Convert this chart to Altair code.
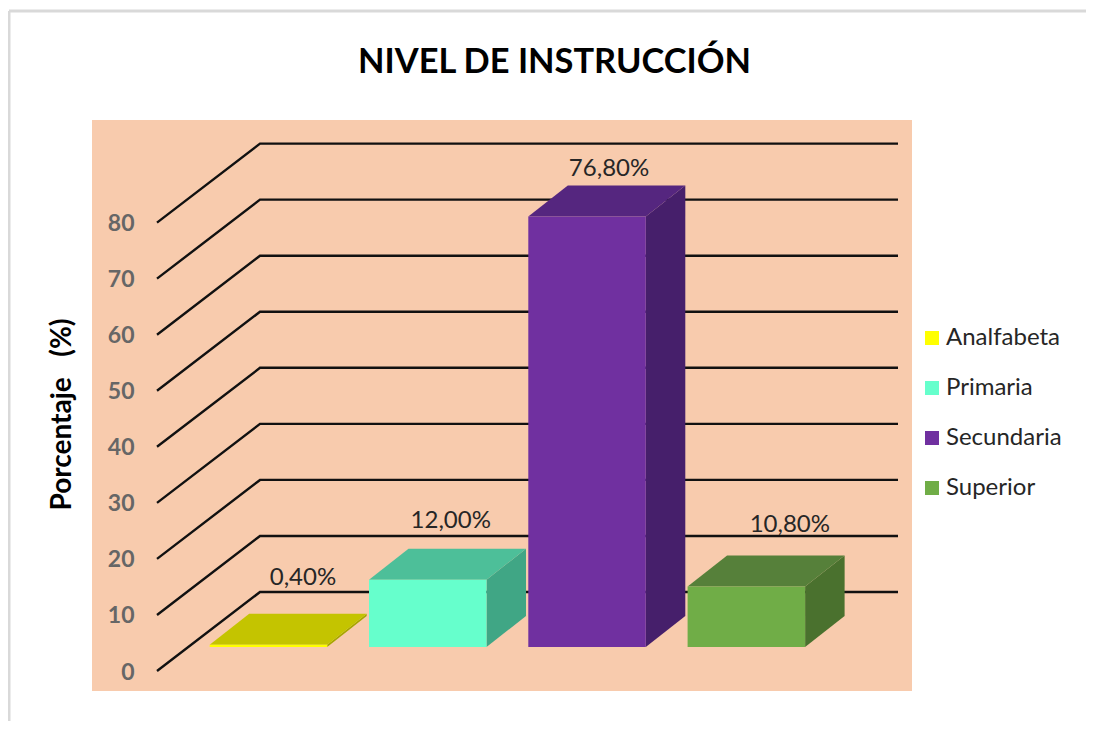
import altair as alt
import pandas as pd

# data
niveles = ["Analfabeta", "Primaria", "Secundaria", "Superior"]
porcentajes = [0.4, 12.0, 76.8, 10.8]
etiquetas = ["0,40%", "12,00%", "76,80%", "10,80%"]
ticks = [0, 10, 20, 30, 40, 50, 60, 70, 80]

# colours per face
front_colors = ["#FFFF00", "#66FFCC", "#7030A0", "#70AD47"]
top_colors = ["#C4C400", "#4DBF99", "#55267F", "#56803A"]
side_colors = ["#A6A600", "#40A685", "#461F6B", "#4A712E"]

# layout, in scale units
BAR_X0 = 200.7
BAR_STEP = 159.3
BAR_W = 117.5
DEPTH_X = 39.5
DEPTH_V = 5.53
FLOOR_V = 4.28
WALL_X0, WALL_X1, WALL_X2 = 148, 251, 889
WALL_V = 14.09
label_dx = [34.5, 23, 22, 43.5]
label_lift = [6.3, 5.0, 3.03, 5.35]

W, H = 1077, 710
x_scale = alt.Scale(domain=[0, W], nice=False, zero=False)
y_scale = alt.Scale(domain=[-8.92, 117.75], nice=False, zero=False)
FONT = "Lato"

panel = pd.DataFrame([{"x": 83, "x2": 903, "y": -3.57, "y2": 98.3}])

wall_rows = []
for t in ticks:
    wall_rows += [
        {"t": t, "x": WALL_X0, "v": t},
        {"t": t, "x": WALL_X1, "v": t + WALL_V},
        {"t": t, "x": WALL_X2, "v": t + WALL_V},
    ]
wall = pd.DataFrame(wall_rows)

front_rows, top_rows, side_rows, label_rows = [], [], [], []
for i, (n, p, e) in enumerate(zip(niveles, porcentajes, etiquetas)):
    x0 = BAR_X0 + BAR_STEP * i
    x1 = x0 + BAR_W
    top = FLOOR_V + p
    front_rows.append({"Nivel": n, "x": x0, "x2": x1, "y": FLOOR_V, "y2": top})
    top_rows += [
        {"c": top_colors[i], "x": x0, "y": top, "y2": top},
        {"c": top_colors[i], "x": x0 + DEPTH_X, "y": top + DEPTH_V, "y2": top},
        {"c": top_colors[i], "x": x1, "y": top + DEPTH_V, "y2": top},
        {"c": top_colors[i], "x": x1 + DEPTH_X, "y": top + DEPTH_V, "y2": top + DEPTH_V},
    ]
    side_rows += [
        {"c": side_colors[i], "x": x1, "y": top, "y2": FLOOR_V},
        {"c": side_colors[i], "x": x1 + DEPTH_X, "y": top + DEPTH_V, "y2": FLOOR_V + DEPTH_V},
    ]
    label_rows.append({
        "t": e,
        "x": (x0 + x1) / 2 + label_dx[i],
        "y": top + DEPTH_V + label_lift[i],
    })

X = lambda f="x": alt.X(f"{f}:Q", scale=x_scale, axis=None)

frame_top = alt.Chart().mark_rule(color="#D9D9D9", strokeWidth=3).encode(
    x=alt.value(0), x2=alt.value(W), y=alt.value(0)
)
frame_left = alt.Chart().mark_rule(color="#D9D9D9", strokeWidth=3).encode(
    x=alt.value(0), y=alt.value(0), y2=alt.value(H)
)

panel_l = alt.Chart(panel).mark_rect(fill="#F8CBAD").encode(
    x=X(),
    x2="x2:Q",
    y=alt.Y(
        "y:Q",
        scale=y_scale,
        axis=alt.Axis(
            values=ticks,
            orient="left",
            offset=-125,
            zindex=1,
            grid=False,
            domain=False,
            ticks=False,
            tickSize=0,
            labelPadding=0,
            labelFont=FONT,
            labelFontSize=23,
            labelFontWeight="bold",
            labelColor="#666666",
            labelOffset=1,
            title="Porcentaje\u00a0\u00a0\u00a0(%)",
            titleFont=FONT,
            titleFontSize=28,
            titleFontWeight="bold",
            titleColor="#000000",
            titleX=-72,
            titleY=403,
            titleAlign="center",
            titleBaseline="middle",
            titleAngle=270,
        ),
    ),
    y2="y2:Q",
)

wall_l = alt.Chart(wall).mark_line(color="#111111", strokeWidth=2.4).encode(
    x=X(),
    y=alt.Y("v:Q", scale=y_scale),
    detail="t:N",
)

side_l = alt.Chart(pd.DataFrame(side_rows)).mark_area(opacity=1).encode(
    x=X(),
    y=alt.Y("y:Q", scale=y_scale),
    y2="y2:Q",
    color=alt.Color("c:N", scale=None, legend=None),
)

top_l = alt.Chart(pd.DataFrame(top_rows)).mark_area(opacity=1).encode(
    x=X(),
    y=alt.Y("y:Q", scale=y_scale),
    y2="y2:Q",
    color=alt.Color("c:N", scale=None, legend=None),
)

front_l = alt.Chart(pd.DataFrame(front_rows)).mark_rect().encode(
    x=X(),
    x2="x2:Q",
    y=alt.Y("y:Q", scale=y_scale),
    y2="y2:Q",
    color=alt.Color(
        "Nivel:N",
        scale=alt.Scale(domain=niveles, range=front_colors),
        legend=alt.Legend(
            title=None,
            orient="none",
            legendX=911,
            legendY=315,
            padding=0,
            symbolType="square",
            symbolSize=196,
            symbolStrokeWidth=0,
            labelFont=FONT,
            labelFontSize=24,
            labelColor="#262626",
            labelOffset=2,
            rowPadding=26,
        ),
    ),
)

labels_l = alt.Chart(pd.DataFrame(label_rows)).mark_text(
    font=FONT, fontSize=24, color="#262626", baseline="middle", align="center"
).encode(
    x=X(),
    y=alt.Y("y:Q", scale=y_scale),
    text="t:N",
)

chart = (
    alt.layer(frame_top, frame_left, panel_l, wall_l, side_l, top_l, front_l, labels_l)
    .resolve_scale(color="independent")
    .properties(
        width=W,
        height=H,
        padding={"left": 1, "top": 3, "right": 0, "bottom": 0},
        autosize=alt.AutoSizeParams(type="none"),
        title=alt.TitleParams(
            "NIVEL DE INSTRUCCIÓN",
            font=FONT,
            fontSize=34.4,
            fontWeight="bold",
            color="#000000",
            anchor="middle",
            dx=7,
            dy=75,
        ),
    )
    .configure_view(strokeWidth=0)
)

chart.save("out.html", embed_options={"renderer": "svg", "actions": False})
